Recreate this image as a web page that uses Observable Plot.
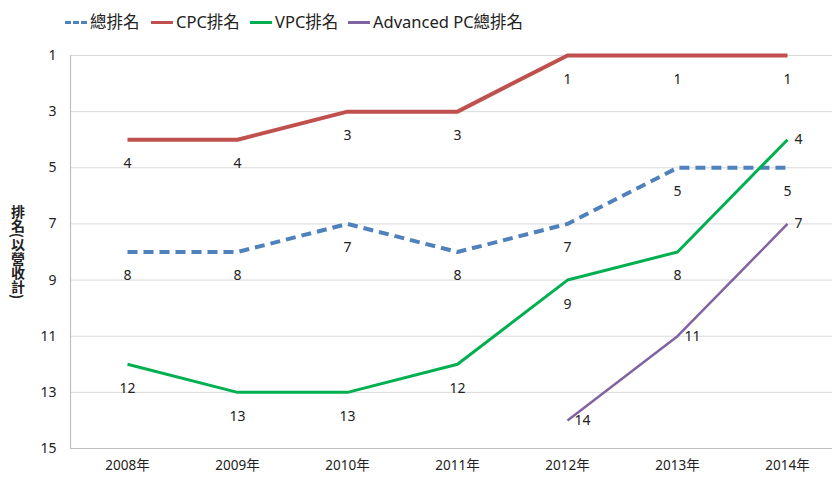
<!DOCTYPE html>
<html><head><meta charset="utf-8">
<script src="https://cdn.jsdelivr.net/npm/d3@7"></script>
<script src="https://cdn.jsdelivr.net/npm/@observablehq/plot@0.6"></script>
<style>
body{margin:0;background:#fff;font-family:"Noto Sans","Noto Sans CJK TC",sans-serif;}
#legend{position:relative;width:832px;height:42px;}
.item{position:absolute;top:10px;display:flex;align-items:center;font-size:16.5px;color:#222;white-space:nowrap;line-height:24px;}
.sw{width:22px;height:0;margin-right:3px;}
</style></head><body>
<div id="legend"></div>
<div id="chart"></div>
<script>
const years = ["2008年","2009年","2010年","2011年","2012年","2013年","2014年"];
const seriesNames = ["總排名","CPC排名","VPC排名","Advanced PC總排名"];
const totalRank = [8,8,7,8,7,5,5];
const cpcRank = [4,4,3,3,1,1,1];
const vpcRank = [12,13,13,12,9,8,4];
const advRank = [null,null,null,null,14,11,7];
const yTicks = [1,3,5,7,9,11,13,15];
const yLabel = "排名(以營收計)";

const values = [totalRank, cpcRank, vpcRank, advRank];
const styles = {
  "總排名": {stroke:"#4F81BD", strokeWidth:4, dash:"10,6", lx:65},
  "CPC排名": {stroke:"#C0504D", strokeWidth:4, dash:null, lx:151},
  "VPC排名": {stroke:"#00B050", strokeWidth:3, dash:null, lx:250},
  "Advanced PC總排名": {stroke:"#8064A2", strokeWidth:2.5, dash:null, lx:348}
};

const rows = [];
seriesNames.forEach((s, i) => values[i].forEach((v, j) => {
  if (v != null) rows.push({series: s, year: years[j], rank: v, idx: j});
}));

// right-placed labels: VPC last point and all Advanced PC points
const isRight = d => d.series === "Advanced PC總排名" || (d.series === "VPC排名" && d.idx === years.length - 1);

// legend
const legend = d3.select("#legend");
seriesNames.forEach(s => {
  const st = styles[s];
  const it = legend.append("div").attr("class","item").style("left", st.lx + "px");
  it.append("div").attr("class","sw")
    .style("border-top", `${Math.max(3, st.strokeWidth - 0.5)}px ${st.dash ? "dashed" : "solid"} ${st.stroke}`);
  it.append("span").text(s);
});

const lineMarks = seriesNames.map(s => Plot.line(rows.filter(d => d.series === s), {
  x: "year", y: "rank", stroke: styles[s].stroke, strokeWidth: styles[s].strokeWidth,
  strokeDasharray: styles[s].dash || undefined, strokeLinecap: "butt", strokeLinejoin: "round"
}));

const chart = Plot.plot({
  width: 832,
  height: 439,
  marginLeft: 70,
  marginRight: 0,
  marginTop: 13,
  marginBottom: 33,
  style: {fontFamily: '"Noto Sans","Noto Sans CJK TC",sans-serif', fontSize: "14px", color: "#222", background: "#fff"},
  x: {type: "point", domain: years, range: [125, 788], padding: 0, label: null},
  y: {domain: [1, 15], reverse: true, ticks: yTicks, label: null},
  marks: [
    Plot.ruleY(yTicks, {stroke: "#d9d9d9", strokeWidth: 1}),
    Plot.ruleY([15], {stroke: "#bfbfbf", strokeWidth: 1.2}),
    Plot.frame({anchor: "left", stroke: "#bfbfbf", strokeWidth: 1.2}),
    Plot.axisY({ticks: yTicks, tickSize: 0, tickPadding: 14, fontSize: 14, label: null}),
    Plot.axisX({tickSize: 0, tickPadding: 12, fontSize: 13.5, label: null}),
    ...lineMarks,
    Plot.text(rows.filter(d => !isRight(d)), {x: "year", y: "rank", text: d => String(d.rank), dy: 24, fontSize: 14, fill: "#222"}),
    Plot.text(rows.filter(isRight), {x: "year", y: "rank", text: d => String(d.rank), dx: 7, dy: 0, textAnchor: "start", fontSize: 14, fill: "#222"})
  ]
});

const svg = d3.select(chart);
svg.append("text")
  .attr("x", 18).attr("y", 210)
  .attr("text-anchor", "middle")
  .style("writing-mode", "vertical-rl")
  .style("text-orientation", "mixed")
  .style("font-family", '"Noto Sans CJK TC",sans-serif')
  .style("font-weight", "bold")
  .style("font-size", "14px")
  .attr("fill", "#222")
  .text(yLabel);

document.getElementById("chart").appendChild(chart);
</script>
</body></html>
